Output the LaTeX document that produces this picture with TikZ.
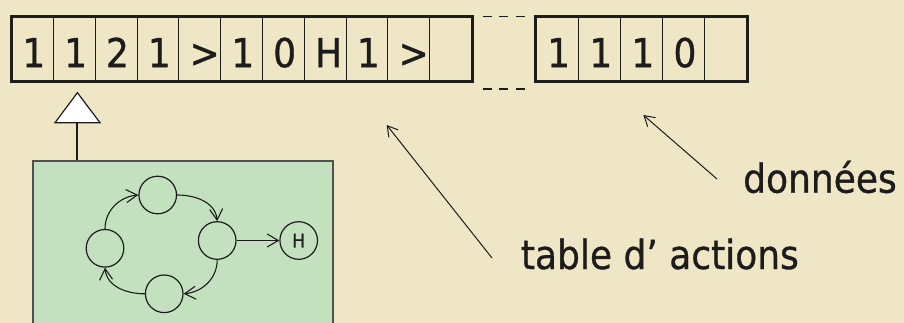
\documentclass[tikz,border=0pt]{standalone}
\usepackage{fontspec}
\setmainfont{DejaVu Sans}[FakeStretch=0.9, FakeBold=0.8]
\usetikzlibrary{arrows.meta}

\definecolor{parchment}{HTML}{EFE6C6}
\definecolor{panelgreen}{HTML}{C3E1BF}
\definecolor{ink}{HTML}{1C1C1C}
\definecolor{panelrim}{HTML}{505050}

\tikzset{
  cell/.style={draw=ink, line width=1pt, rectangle, minimum width=41.8pt,
    minimum height=64.3pt, inner sep=0pt},
  cellb/.style={cell, minimum width=42.1pt},
  sym/.style={anchor=base west, inner sep=0pt, text=ink,
    font=\fontsize{40}{40}\selectfont},
  frame/.style={draw=ink, line width=3pt},
  gapdash/.style={draw=ink, line width=1.6pt, dash pattern=on 9pt off 7.6pt},
  state/.style={circle, draw=ink, line width=1.2pt, minimum size=37.6pt,
    inner sep=0pt, font=\fontsize{19}{19}\selectfont, text=ink},
  flow/.style={draw=ink, line width=1.1pt,
    -{Straight Barb[length=11pt, width=13pt, line width=1.1pt]}},
  pointer/.style={draw=ink, line width=1pt,
    -{Straight Barb[length=10pt, width=12pt, line width=1pt]}},
  caption/.style={anchor=base west, inner sep=0pt, text=ink,
    font=\fontsize{40}{40}\selectfont},
}

\begin{document}
\begin{tikzpicture}[x=1pt, y=-1pt]
  % page and background
  \fill[parchment] (0,0) rectangle (904,323);
  \useasboundingbox (0,0) rectangle (904,323);
  \clip (0,0) rectangle (904,323);

  % action table tape
  \foreach \s [count=\i] in {1,1,2,1,>,1,0,H,1,>,{}} {
    \node[cell] (a\i) at ({11.7+41.8*(\i-0.5)},48.85) {};
    \node[sym] (sa\i) at ([shift={(11pt,14.3pt)}]a\i.south west) {\s};
  }
  \draw[frame] (a1.north west) rectangle (a11.south east);

  % gap in the tape
  \coordinate (gt1) at (482.7,16.7);
  \coordinate (gt2) at (525,16.7);
  \coordinate (gb1) at (482.7,89);
  \coordinate (gb2) at (525,89);
  \draw[gapdash] (gt1) -- (gt2);
  \draw[gapdash] (gb1) -- (gb2);

  % data tape
  \foreach \s [count=\i] in {1,1,1,0,{}} {
    \node[cellb] (d\i) at ({536+42.1*(\i-0.5)},48.85) {};
    \node[sym] (sd\i) at ([shift={(11.5pt,14.3pt)}]d\i.south west) {\s};
  }
  \draw[frame] (d1.north west) rectangle (d5.south east);

  % read head
  \coordinate (apex) at (77.4,92.7);
  \coordinate (hl) at (55,122.7);
  \coordinate (hr) at (100,122.7);
  \coordinate (hb) at (77.4,122.7);
  \coordinate (ht) at (77.4,161);
  \draw[ink, line width=2pt] (hb) -- (ht);
  \filldraw[fill=white, draw=ink, line width=1.2pt, line join=miter]
    (apex) -- (hr) -- (hl) -- cycle;

  % control unit
  \filldraw[fill=panelgreen, draw=panelrim, line width=1.6pt]
    (32.7,161) rectangle (332.7,345);

  \node[state] (q1) at (157.7,195) {};
  \node[state] (q2) at (217.2,240.5) {};
  \node[state] (q3) at (164.2,293.8) {};
  \node[state] (q4) at (105,248.3) {};
  \node[state] (qh) at (298.7,240.5) {H};

  \draw[flow] (q4.north) to[out=90, in=185] (q1.west);
  \draw[flow] (q1.east) to[out=0, in=95] (q2.north);
  \draw[flow] (q2.south) to[out=-90, in=5] (q3.east);
  \draw[flow] (q3.west) to[out=180, in=-85] (q4.south);
  \draw[flow] (q2.east) -- (qh.west);

  % captions
  \node[caption] (lbldata) at (743,192.7) {données};
  \node[caption] (lbltable) at (520.7,269) {table d’ actions};

  \coordinate (ptable) at (492,258);
  \coordinate (ttable) at (386.7,125);
  \coordinate (pdata) at (717,179);
  \coordinate (tdata) at (643.3,115);
  \draw[pointer] (ptable) -- (ttable);
  \draw[pointer] (pdata) -- (tdata);
\end{tikzpicture}
\end{document}
